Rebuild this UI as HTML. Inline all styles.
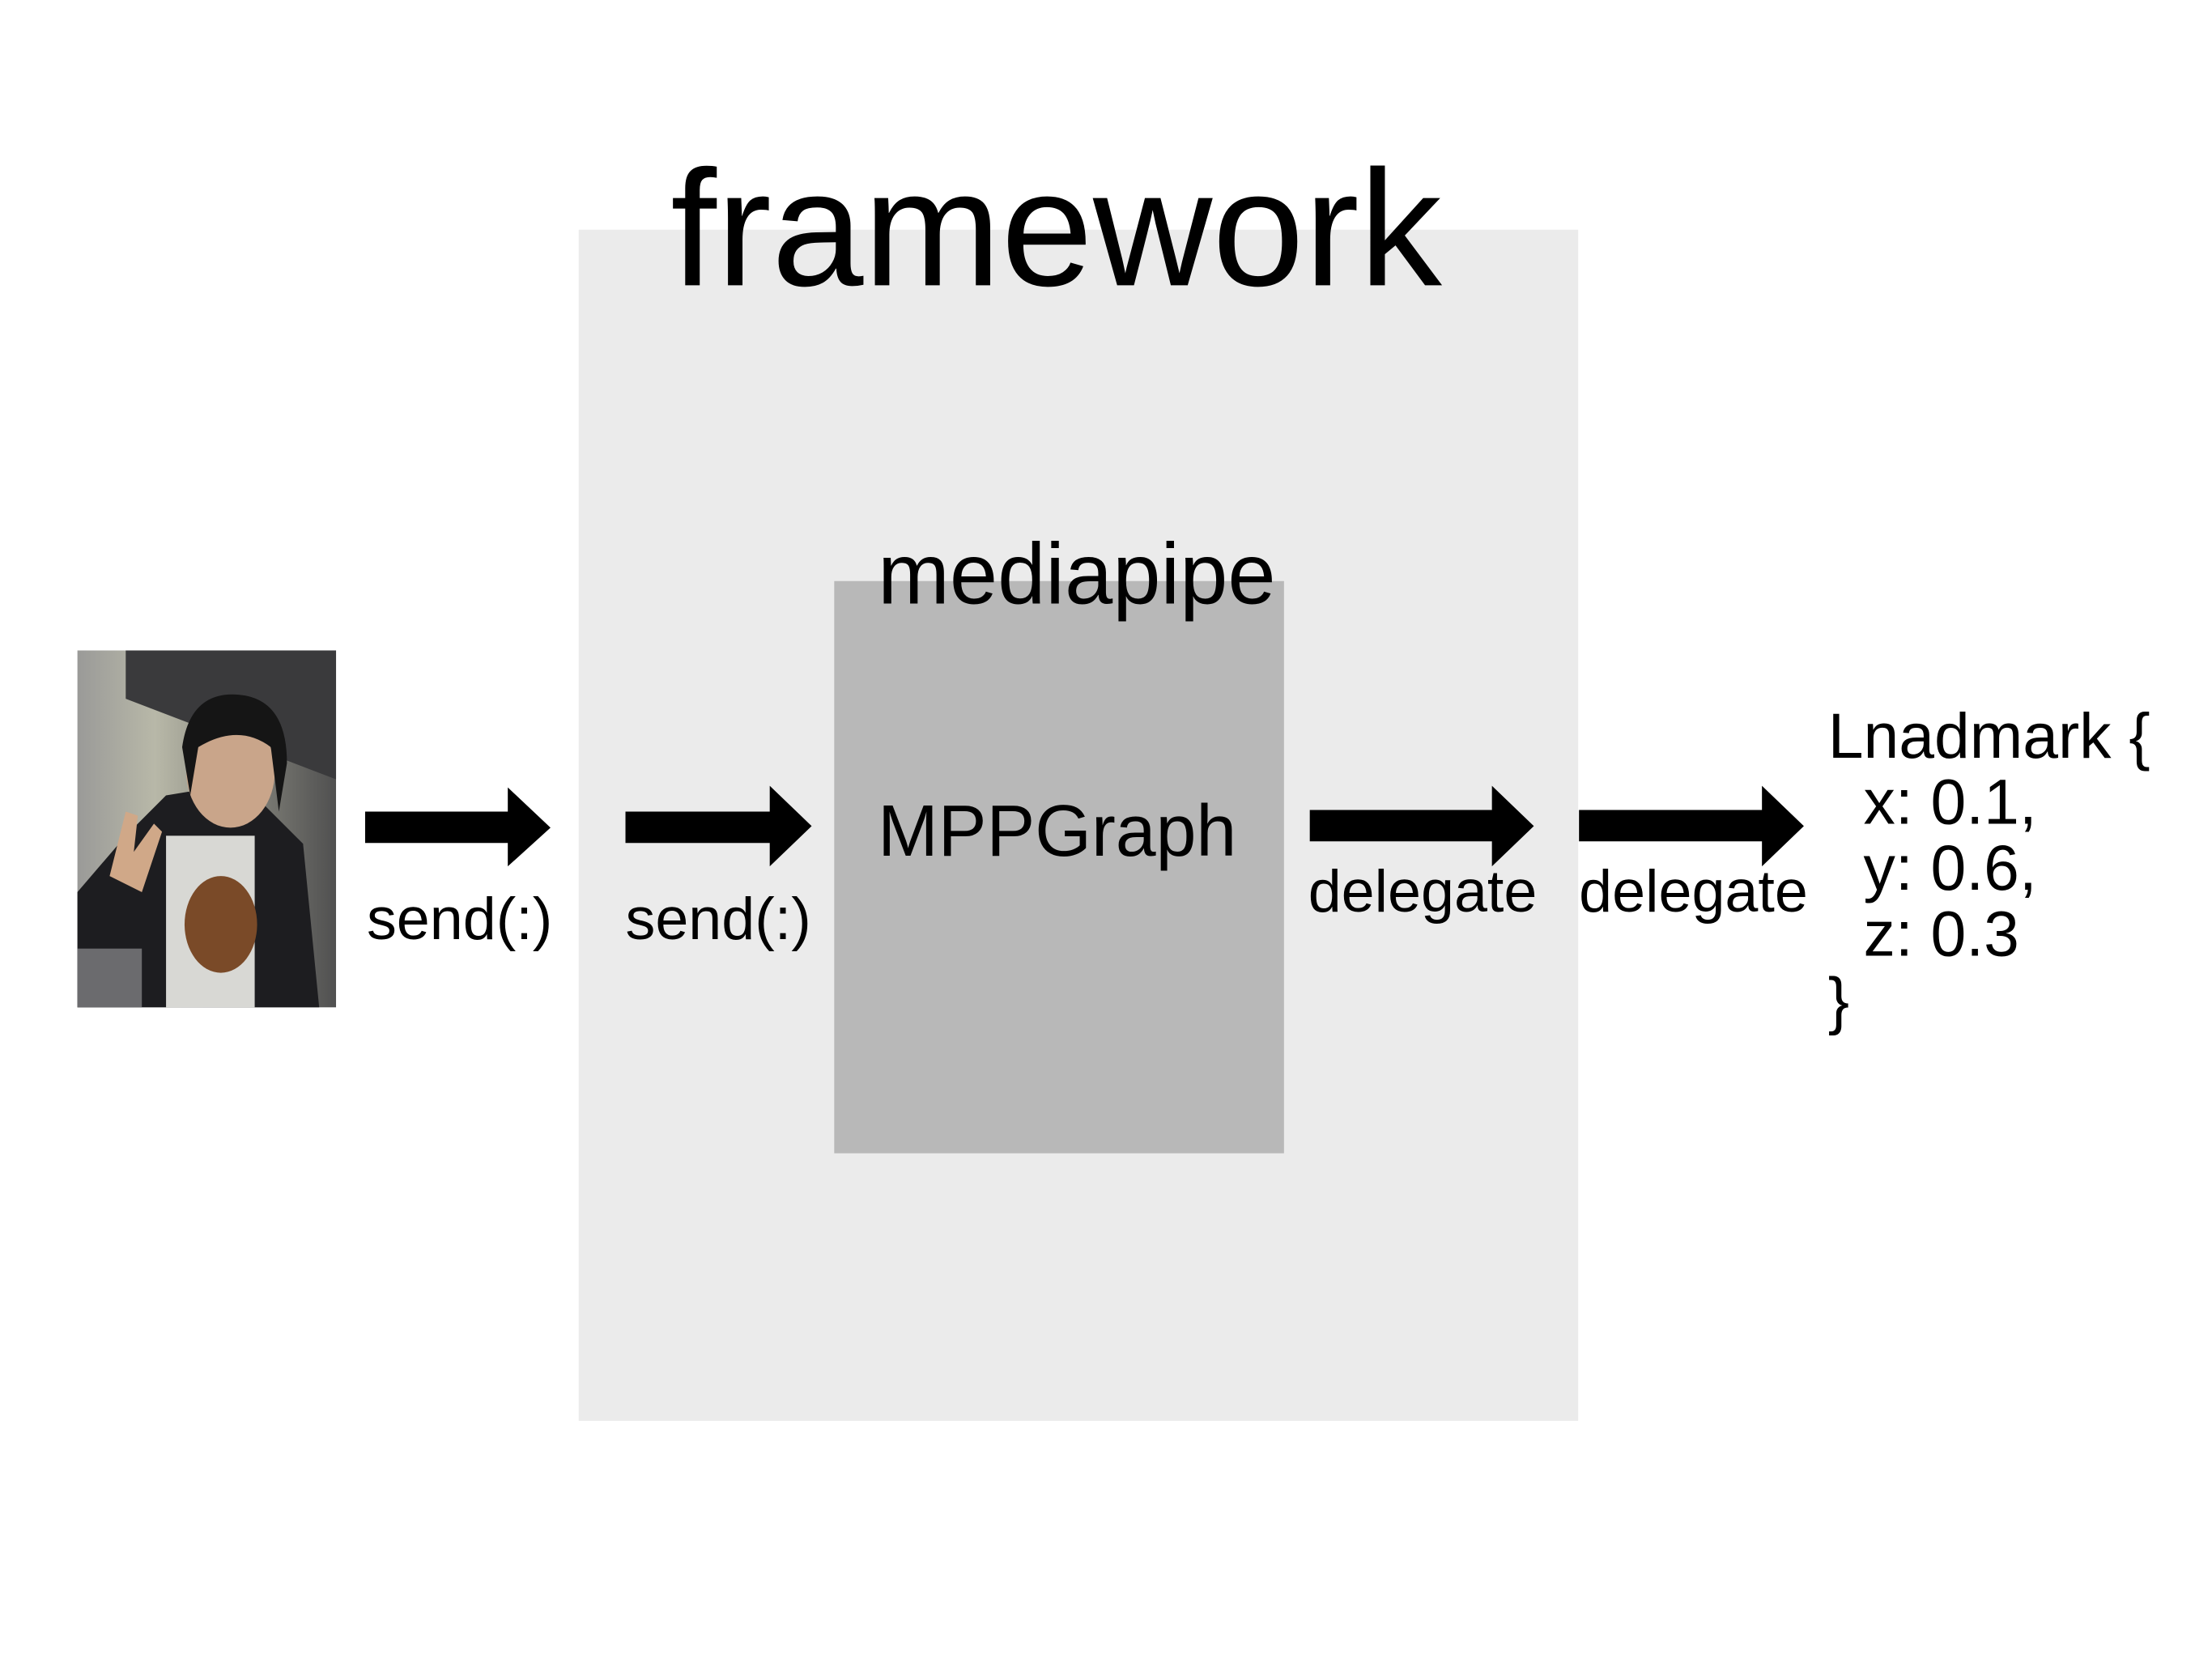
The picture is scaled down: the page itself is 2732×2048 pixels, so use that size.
<!DOCTYPE html>
<html><head><meta charset="utf-8"><style>
html,body{margin:0;padding:0;background:#fff;}
body{width:2732px;height:2048px;position:relative;overflow:hidden;font-family:"Liberation Sans",Arial,sans-serif;color:#000;}
#w{position:absolute;left:0;top:0;width:2732px;height:2048px;transform:scale(0.9955);transform-origin:0 0;}
.a{position:absolute;}
.t{position:absolute;white-space:pre;line-height:1;}
</style></head><body><div id="w">
<div class="a" style="left:718px;top:285px;width:1240px;height:1478px;background:#ebebeb"></div>
<div class="a" style="left:1035px;top:721px;width:558px;height:710px;background:#b8b8b8"></div>
<div class="t" style="left:832px;top:181px;font-size:205px">framework</div>
<div class="t" style="left:1089px;top:659px;font-size:107px">mediapipe</div>
<div class="t" style="left:1089px;top:987px;font-size:90px">MPPGraph</div>

<svg class="a" style="left:96px;top:807px" width="321" height="443" viewBox="0 0 321 443">
<defs><linearGradient id="bg" x1="0" y1="0" x2="1" y2="0"><stop offset="0" stop-color="#9a9a98"/><stop offset="0.3" stop-color="#b8b8a8"/><stop offset="1" stop-color="#505050"/></linearGradient></defs>
<rect width="321" height="443" fill="url(#bg)"/>
<polygon points="60,0 321,0 321,160 60,60" fill="#3a3a3c"/>
<polygon points="0,443 0,300 60,230 110,180 170,170 230,190 280,240 300,443" fill="#1d1d20"/>
<rect x="110" y="230" width="110" height="213" fill="#d8d8d4"/>
<ellipse cx="178" cy="340" rx="45" ry="60" fill="#7a4a28"/>
<ellipse cx="190" cy="150" rx="55" ry="70" fill="#c9a58a"/>
<path d="M130,120 Q140,50 200,55 Q260,60 260,140 L250,200 L240,120 Q200,90 150,120 L140,180 Z" fill="#151515"/>
<path d="M40,280 L60,200 L75,205 L70,250 L95,215 L105,225 L80,300 Z" fill="#d0a888"/>
<rect x="0" y="370" width="80" height="73" fill="#6b6b6e"/>
</svg>

<svg class="a" style="left:0;top:0" width="2732" height="2048">
<polygon points="453,1007 630,1007 630,977 683,1027 630,1075 630,1046 453,1046" fill="#000"/>
<polygon points="776,1007 955,1007 955,975 1007,1025 955,1075 955,1046 776,1046" fill="#000"/>
<polygon points="1625,1005 1851,1005 1851,975 1903,1025 1851,1075 1851,1044 1625,1044" fill="#000"/>
<polygon points="1959,1005 2186,1005 2186,975 2238,1025 2186,1075 2186,1044 1959,1044" fill="#000"/>
</svg>

<div class="t" style="left:455px;top:1103px;font-size:74px">send(:)</div>
<div class="t" style="left:776px;top:1103px;font-size:74px">send(:)</div>
<div class="t" style="left:1623px;top:1069px;font-size:74px">delegate</div>
<div class="t" style="left:1959px;top:1069px;font-size:74px">delegate</div>

<div class="t" style="left:2268px;top:872px;font-size:79px;line-height:82px">Lnadmark {
  x: 0.1,
  y: 0.6,
  z: 0.3
}</div>
</div></body></html>
